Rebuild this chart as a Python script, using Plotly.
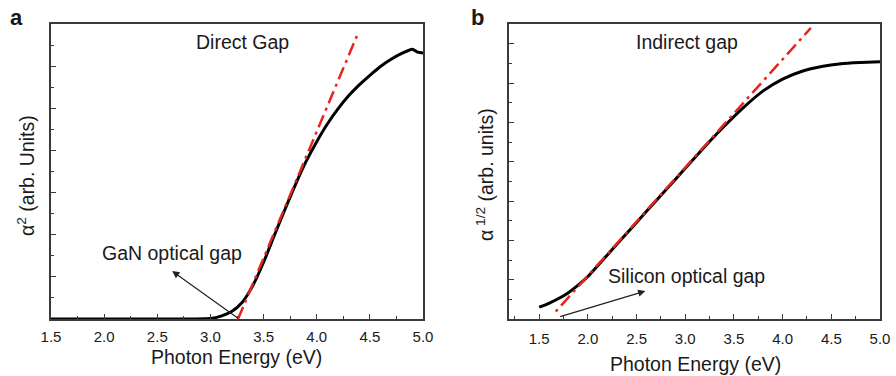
import plotly.graph_objects as go

# ---------------- data ----------------
# Panel a: direct gap (alpha^2 vs photon energy)
a_energy = [1.5, 2.0, 2.5, 2.8, 2.95, 3.0, 3.1, 3.2, 3.3, 3.4, 3.5, 3.6, 3.7, 3.8, 3.9,
            4.0, 4.1, 4.2, 4.3, 4.4, 4.5, 4.6, 4.7, 4.8, 4.9, 4.95, 5.0]
a_alpha2 = [0.0, 0.0, 0.0, 0.0, 0.005, 0.01, 0.07, 0.18, 0.40, 0.80, 1.35, 1.98, 2.60, 3.20, 3.75,
            4.22, 4.64, 5.00, 5.31, 5.57, 5.80, 6.01, 6.18, 6.32, 6.42, 6.35, 6.33]
a_fit_energy = [3.26, 4.39]
a_fit_value = [0.0, 6.81]

# Panel b: indirect gap (alpha^1/2 vs photon energy)
b_energy = [1.5, 1.6, 1.7, 1.8, 1.9, 2.0, 2.2, 2.4, 2.6, 2.8, 3.0, 3.2, 3.4, 3.6, 3.8,
            4.0, 4.2, 4.4, 4.6, 4.8, 5.0]
b_alpha_half = [0.30, 0.40, 0.52, 0.67, 0.86, 1.08, 1.63, 2.18, 2.73, 3.28, 3.83, 4.38, 4.90, 5.38, 5.80,
                6.10, 6.30, 6.42, 6.49, 6.52, 6.54]
b_fit_energy = [1.67, 4.29]
b_fit_value = [0.19, 7.40]

# arrow (head, tail) in data units
a_arrow = dict(head=(2.64, 1.14), tail=(3.27, 0.0))
b_arrow = dict(head=(2.59, 0.71), tail=(1.70, 0.05))

x_ticks = [1.5, 2.0, 2.5, 3.0, 3.5, 4.0, 4.5, 5.0]
x_ticklabels = ["1.5", "2.0", "2.5", "3.0", "3.5", "4.0", "4.5", "5.0"]

# ---------------- figure ----------------
W, H = 896, 376
FONT = "Liberation Sans, Arial, sans-serif"
TXT = "#1a1a1a"
AX = "#3a3a3a"


def px(x, y):
    return x / W, 1 - y / H


fig = go.Figure()

fig.add_trace(go.Scatter(x=a_energy, y=a_alpha2, mode="lines", line=dict(color="black", width=3, shape="spline", smoothing=0.6),
                         xaxis="x", yaxis="y", showlegend=False))
fig.add_trace(go.Scatter(x=a_fit_energy, y=a_fit_value, mode="lines",
                         line=dict(color="#e3261f", width=2.5, dash="13px,5px,3px,5px"),
                         xaxis="x", yaxis="y", showlegend=False))
fig.add_trace(go.Scatter(x=b_energy, y=b_alpha_half, mode="lines", line=dict(color="black", width=3, shape="spline", smoothing=0.6),
                         xaxis="x2", yaxis="y2", showlegend=False))
fig.add_trace(go.Scatter(x=b_fit_energy, y=b_fit_value, mode="lines",
                         line=dict(color="#e3261f", width=2.5, dash="3px,5px,13px,5px"),
                         xaxis="x2", yaxis="y2", showlegend=False))

ydom = [1 - 319 / H, 1 - 24 / H]

xcommon = dict(showline=True, mirror=True, linecolor=AX, linewidth=1.5, ticks="inside", ticklen=5,
               tickwidth=1.3, tickcolor=AX, showgrid=False, zeroline=False, automargin=False,
               tickvals=x_ticks, ticktext=x_ticklabels,
               tickfont=dict(family=FONT, size=15, color=TXT),
               minor=dict(ticks="inside", ticklen=3, dtick=0.25, tickcolor=AX, tickwidth=1.2))
ycommon = dict(showline=True, mirror=True, linecolor=AX, linewidth=1.5, ticks="inside", ticklen=5,
               tickwidth=1.3, tickcolor=AX, showgrid=False, zeroline=False, showticklabels=False,
               dtick=1, tick0=0, automargin=False,
               minor=dict(ticks="inside", ticklen=3, dtick=0.5, tickcolor=AX, tickwidth=1.2))

fig.update_layout(
    template="none",
    width=W, height=H,
    margin=dict(l=0, r=0, t=0, b=0, pad=0, autoexpand=False),
    paper_bgcolor="white", plot_bgcolor="white",
    xaxis=dict(domain=[51 / W, 423 / W], range=[1.5, 5.0], anchor="y", ticklabelstandoff=3, **xcommon),
    yaxis=dict(domain=ydom, range=[0, 7.02], anchor="x", **ycommon),
    xaxis2=dict(domain=[509 / W, 880 / W], range=[1.19, 5.0], anchor="y2", ticklabelstandoff=5, **xcommon),
    yaxis2=dict(domain=ydom, range=[0, 7.5], anchor="x2", **ycommon),
    font=dict(family=FONT, color=TXT),
)

ann = []


def text(x, y, s, size=19.5, bold=False, angle=0):
    xp, yp = px(x, y)
    ann.append(dict(x=xp, y=yp, xref="paper", yref="paper", text=("<b>%s</b>" % s) if bold else s,
                    showarrow=False, xanchor="center", yanchor="middle", textangle=angle,
                    font=dict(family=FONT, size=size, color=TXT)))


text(16, 18, "a", size=22, bold=True)
text(477, 18, "b", size=22, bold=True)
text(242, 42, "Direct Gap")
text(687, 42, "Indirect gap")
text(172, 253, "GaN optical gap")
text(686, 276, "Silicon optical gap")
text(237, 357, "Photon Energy (eV)")
text(695, 364, "Photon Energy (eV)")
text(26, 176, "α<sup>2</sup> (arb. Units)", angle=-90)
text(485, 175, "α<sup> 1/2</sup> (arb. units)", angle=-90)

for arr, xr, yr in ((a_arrow, "x", "y"), (b_arrow, "x2", "y2")):
    ann.append(dict(x=arr["head"][0], y=arr["head"][1], ax=arr["tail"][0], ay=arr["tail"][1],
                    xref=xr, yref=yr, axref=xr, ayref=yr, showarrow=True, text="",
                    arrowhead=2, arrowsize=1.2, arrowwidth=1.2, arrowcolor="#222"))

fig.update_layout(annotations=ann)

fig.write_html("out.html", config={"displayModeBar": False},
               post_script="document.body.style.margin='0';document.body.style.overflow='hidden';")
